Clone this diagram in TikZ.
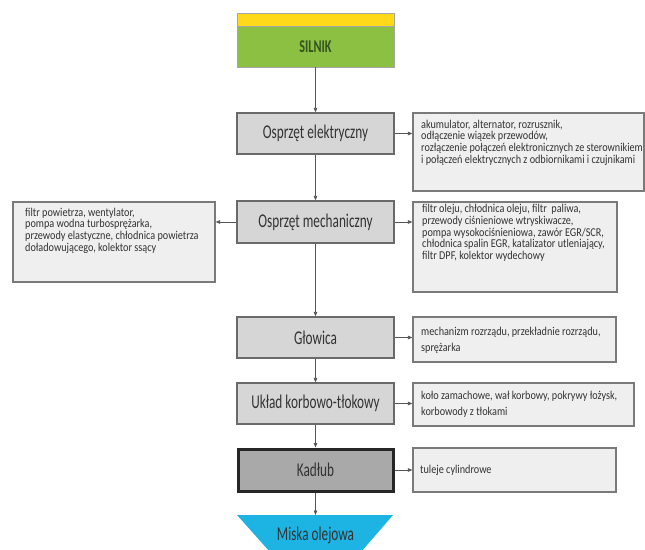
\documentclass[tikz,border=0pt]{standalone}
\usepackage{fontspec}
\setmainfont{Carlito}
\newfontfamily\bigf[FakeStretch=0.68]{Carlito}
\newfontfamily\smallf[FakeStretch=0.85]{Carlito}
\usetikzlibrary{arrows.meta,calc}
\definecolor{boxline}{HTML}{6A6A6A}
\definecolor{mainfill}{HTML}{D6D6D6}
\definecolor{sidefill}{HTML}{EFEFEF}
\definecolor{sideline}{HTML}{7A7A7A}
\definecolor{txt}{HTML}{333333}
\definecolor{arrline}{HTML}{555555}
\definecolor{kadfill}{HTML}{A9A9A9}
\definecolor{miskafill}{HTML}{1DB3E3}
\definecolor{silgreen}{HTML}{8CC043}
\definecolor{silyellow}{HTML}{FFD91A}
\definecolor{siltext}{HTML}{35531E}
\begin{document}
\begin{tikzpicture}[x=1pt,y=-1pt,
  mainbox/.style={draw=boxline, fill=mainfill, line width=1.2pt, minimum width=157pt, minimum height=41pt, inner sep=0pt, font=\bigf\fontsize{19.5}{21}\selectfont, text=txt},
  sidebox/.style={draw=sideline, fill=sidefill, line width=1.2pt, inner sep=0pt},
  sidetext/.style={anchor=west, align=left, inner sep=0pt, font=\smallf\fontsize{12}{11.7}\selectfont, text=txt},
  arr/.style={draw=arrline, line width=0.8pt, -{Triangle[length=4.5pt,width=3.5pt]}}]
\useasboundingbox (0,0) rectangle (645,549);
\fill[white] (0,0) rectangle (645,549);
% engine
\node[fill=silyellow, draw=gray!70, line width=0.6pt, minimum width=157pt, minimum height=13pt, inner sep=0pt] (band) at (315.5,19.5) {};
\node[fill=silgreen, draw=gray!70, line width=0.6pt, minimum width=157pt, minimum height=41pt, inner sep=0pt, font=\bigf\fontsize{18}{20}\selectfont\bfseries, text=siltext] (silnik) at (315.5,46.5) {SILNIK};
% main column
\node[mainbox] (elektr) at (315.5,133.5) {Osprzęt elektryczny};
\node[mainbox, minimum height=42pt] (mech) at (315.5,222) {Osprzęt mechaniczny};
\node[mainbox] (glow) at (315.5,337.5) {Głowica};
\node[mainbox] (uklad) at (315.5,403.5) {Układ korbowo-tłokowy};
\node[mainbox, draw=black!85, fill=kadfill, line width=3pt, minimum width=155pt, minimum height=42pt] (kadlub) at (315.5,470) {Kadłub};
\fill[miskafill] (237,515) -- (393,515) -- (361,552) -- (270,552) -- cycle;
\coordinate (miskatop) at (315.5,515);
\node[font=\bigf\fontsize{19.5}{21}\selectfont, text=txt, inner sep=0pt] (miska) at (315.5,535) {Miska olejowa};
% side boxes
\node[sidebox, minimum width=231pt, minimum height=78pt] (s1) at (528.5,152) {};
\node[sidetext] (t1) at (421,142.5) {akumulator, alternator, rozrusznik,\\odłączenie wiązek przewodów,\\rozłączenie połączeń elektronicznych ze sterownikiem\\i połączeń elektrycznych z odbiornikami i czujnikami};
\node[sidebox, minimum width=202pt, minimum height=80pt] (sl) at (114,242) {};
\node[sidetext] (tl) at (25,230.5) {filtr powietrza, wentylator,\\pompa wodna turbosprężarka,\\przewody elastyczne, chłodnica powietrza\\doładowującego, kolektor ssący};
\node[sidebox, minimum width=204pt, minimum height=90pt] (s2) at (515,247) {};
\node[sidetext] (t2) at (422,233) {filtr oleju, chłodnica oleju, filtr\ \ paliwa,\\przewody ciśnieniowe wtryskiwacze,\\pompa wysokociśnieniowa, zawór EGR/SCR,\\chłodnica spalin EGR, katalizator utleniający,\\filtr DPF, kolektor wydechowy};
\node[sidebox, minimum width=203pt, minimum height=45pt] (s3) at (514.5,339.5) {};
\node[sidetext, font=\smallf\fontsize{12}{16}\selectfont] (t3) at (421,340) {mechanizm rozrządu, przekładnie rozrządu,\\sprężarka};
\node[sidebox, minimum width=221pt, minimum height=43pt] (s4) at (523.5,404.5) {};
\node[sidetext, font=\smallf\fontsize{12}{15.7}\selectfont] (t4) at (421,404.5) {koło zamachowe, wał korbowy, pokrywy łożysk,\\korbowody z tłokami};
\node[sidebox, minimum width=203pt, minimum height=44pt] (s5) at (514.5,470) {};
\node[sidetext] (t5) at (420,470) {tuleje cylindrowe};
% connectors
\draw[arr] (silnik.south) -- (elektr.north);
\draw[arr] (elektr.south) -- (mech.north);
\draw[arr] (mech.south) -- (glow.north);
\draw[arr] (glow.south) -- (uklad.north);
\draw[arr] (uklad.south) -- (kadlub.north);
\draw[arr] (kadlub.south) -- (miskatop);
\draw[arr] (elektr.east) -- (elektr.east -| s1.west);
\draw[arr] (mech.east) -- (mech.east -| s2.west);
\draw[arr] (mech.west) -- (mech.west -| sl.east);
\draw[arr] (glow.east) -- (glow.east -| s3.west);
\draw[arr] (uklad.east) -- (uklad.east -| s4.west);
\draw[arr] (kadlub.east) -- (kadlub.east -| s5.west);
\end{tikzpicture}
\end{document}
